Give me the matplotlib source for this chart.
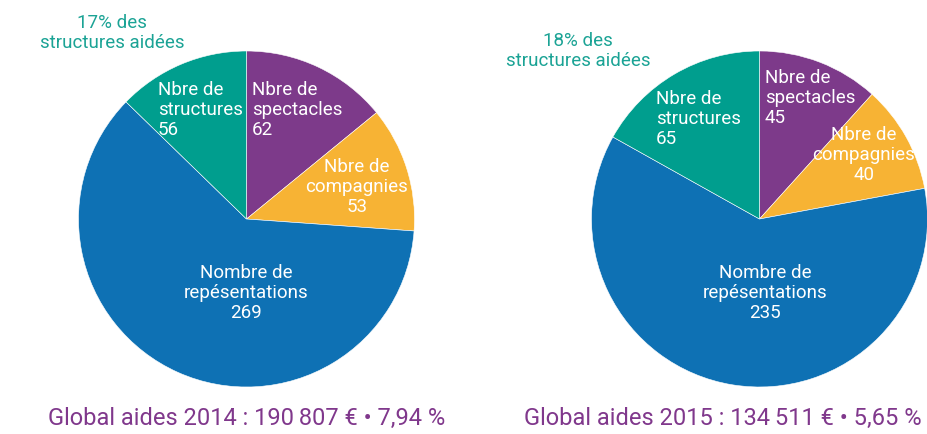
import matplotlib.pyplot as plt
from matplotlib import font_manager

# données
categories = ['spectacles', 'compagnies', 'représentations', 'structures']
valeurs_2014 = [62, 53, 269, 56]
valeurs_2015 = [45, 40, 235, 65]
titres = ['Global aides 2014 : 190\u2009807 € • 7,94 %',
          'Global aides 2015 : 134\u2009511 € • 5,65 %']
part_structures = ['17% des\nstructures aidées', '18% des\nstructures aidées']

couleurs = ['#7D3A8A', '#F7B334', '#0E71B4', '#009E8E']
teal_txt = '#1BA395'
violet_txt = '#80388C'

names = {f.name for f in font_manager.fontManager.ttflist}
fam = ['Liberation Sans Narrow'] if 'Liberation Sans Narrow' in names else ['Roboto']
plt.rcParams['font.family'] = fam + ['DejaVu Sans']

W, H = 928, 434
fig = plt.figure(figsize=(W / 100, H / 100), dpi=100)
ax = fig.add_axes([0, 0, 1, 1])
ax.set_xlim(0, W)
ax.set_ylim(0, H)
ax.set_aspect('equal')
ax.axis('off')


def y(v):
    # position depuis le haut de l'image
    return H - v


R = 168
centres = [(246.5, y(219)), (759.5, y(219))]
for vals, c in zip([valeurs_2014, valeurs_2015], centres):
    ax.pie(vals, colors=couleurs, startangle=90, counterclock=False,
           center=c, radius=R, frame=True,
           wedgeprops=dict(linewidth=0.4, edgecolor='white'))
ax.set_xlim(0, W)
ax.set_ylim(0, H)
ax.axis('off')

fs = 13.5
ls = 1.12
kw = dict(color='white', fontsize=fs, linespacing=ls, va='center')

# camembert 2014
ax.text(158, y(110), f'Nbre de\nstructures\n{valeurs_2014[3]}', ha='left', **kw)
ax.text(252, y(110), f'Nbre de\nspectacles\n{valeurs_2014[0]}', ha='left', **kw)
ax.text(357, y(187), f'Nbre de\ncompagnies\n{valeurs_2014[1]}', ha='center', multialignment='center', **kw)
ax.text(246, y(293), f'Nombre de\nrepésentations\n{valeurs_2014[2]}', ha='center', multialignment='center', **kw)
ax.text(112, y(33), part_structures[0], ha='center', va='center', color=teal_txt,
        fontsize=fs, linespacing=ls, multialignment='center')

# camembert 2015
ax.text(656, y(119), f'Nbre de\nstructures\n{valeurs_2015[3]}', ha='left', **kw)
ax.text(765, y(98), f'Nbre de\nspectacles\n{valeurs_2015[0]}', ha='left', **kw)
ax.text(864, y(155), f'Nbre de\ncompagnies\n{valeurs_2015[1]}', ha='center', multialignment='center', **kw)
ax.text(765, y(293), f'Nombre de\nrepésentations\n{valeurs_2015[2]}', ha='center', multialignment='center', **kw)
ax.text(578, y(51), part_structures[1], ha='center', va='center', color=teal_txt,
        fontsize=fs, linespacing=ls, multialignment='center')

ax.text(48, y(418), titres[0], ha='left', va='center', color=violet_txt, fontsize=17)
ax.text(922, y(418), titres[1], ha='right', va='center', color=violet_txt, fontsize=17)

fig.savefig('out.png', dpi=100)
